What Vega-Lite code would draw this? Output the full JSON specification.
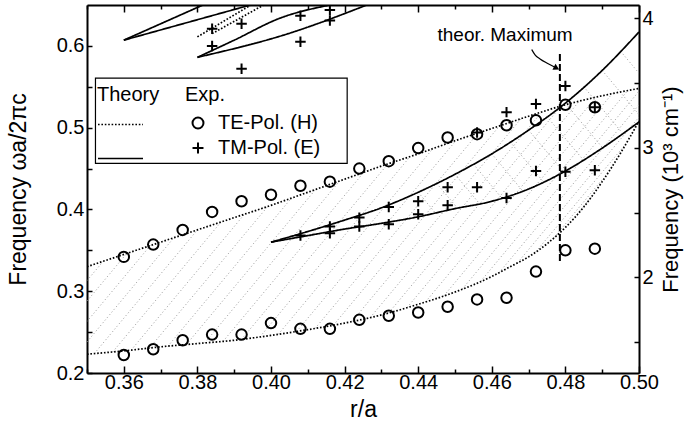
{
  "$schema": "https://vega.github.io/schema/vega-lite/v6.json",
  "width": 552,
  "height": 368,
  "autosize": {"type": "none"},
  "padding": {"left": 87, "top": 5, "right": 46, "bottom": 53},
  "background": "white",
  "config": {
    "font": "Liberation Sans",
    "view": {"stroke": null},
    "axis": {"grid": false, "domainColor": "black", "domainWidth": 2, "tickColor": "black", "tickWidth": 1.5, "labelColor": "black", "titleColor": "black", "labelFont": "Liberation Sans", "titleFont": "Liberation Sans", "labelFontSize": 20, "titleFontSize": 23, "titleFontWeight": "normal", "labelOverlap": false, "labelFlush": false}
  },
  "datasets": {
    "exp": [
      {"x":0.36,"y":0.342,"p":"TE-Pol. (H)"},{"x":0.368,"y":0.357,"p":"TE-Pol. (H)"},{"x":0.376,"y":0.375,"p":"TE-Pol. (H)"},{"x":0.384,"y":0.397,"p":"TE-Pol. (H)"},{"x":0.392,"y":0.410,"p":"TE-Pol. (H)"},{"x":0.400,"y":0.418,"p":"TE-Pol. (H)"},{"x":0.408,"y":0.429,"p":"TE-Pol. (H)"},{"x":0.416,"y":0.434,"p":"TE-Pol. (H)"},{"x":0.424,"y":0.450,"p":"TE-Pol. (H)"},{"x":0.432,"y":0.459,"p":"TE-Pol. (H)"},{"x":0.440,"y":0.475,"p":"TE-Pol. (H)"},{"x":0.448,"y":0.488,"p":"TE-Pol. (H)"},{"x":0.456,"y":0.492,"p":"TE-Pol. (H)"},{"x":0.464,"y":0.503,"p":"TE-Pol. (H)"},{"x":0.472,"y":0.509,"p":"TE-Pol. (H)"},{"x":0.480,"y":0.528,"p":"TE-Pol. (H)"},{"x":0.488,"y":0.525,"p":"TE-Pol. (H)"},
      {"x":0.36,"y":0.222,"p":"TE-Pol. (H)"},{"x":0.368,"y":0.229,"p":"TE-Pol. (H)"},{"x":0.376,"y":0.240,"p":"TE-Pol. (H)"},{"x":0.384,"y":0.247,"p":"TE-Pol. (H)"},{"x":0.392,"y":0.247,"p":"TE-Pol. (H)"},{"x":0.400,"y":0.261,"p":"TE-Pol. (H)"},{"x":0.408,"y":0.254,"p":"TE-Pol. (H)"},{"x":0.416,"y":0.254,"p":"TE-Pol. (H)"},{"x":0.424,"y":0.265,"p":"TE-Pol. (H)"},{"x":0.432,"y":0.270,"p":"TE-Pol. (H)"},{"x":0.440,"y":0.274,"p":"TE-Pol. (H)"},{"x":0.448,"y":0.281,"p":"TE-Pol. (H)"},{"x":0.456,"y":0.290,"p":"TE-Pol. (H)"},{"x":0.464,"y":0.292,"p":"TE-Pol. (H)"},{"x":0.472,"y":0.324,"p":"TE-Pol. (H)"},{"x":0.480,"y":0.350,"p":"TE-Pol. (H)"},{"x":0.488,"y":0.352,"p":"TE-Pol. (H)"},
      {"x":0.384,"y":0.621,"p":"TM-Pol. (E)"},{"x":0.384,"y":0.600,"p":"TM-Pol. (E)"},{"x":0.392,"y":0.627,"p":"TM-Pol. (E)"},{"x":0.392,"y":0.572,"p":"TM-Pol. (E)"},{"x":0.408,"y":0.637,"p":"TM-Pol. (E)"},{"x":0.408,"y":0.605,"p":"TM-Pol. (E)"},{"x":0.416,"y":0.644,"p":"TM-Pol. (E)"},{"x":0.416,"y":0.631,"p":"TM-Pol. (E)"},
      {"x":0.408,"y":0.368,"p":"TM-Pol. (E)"},{"x":0.416,"y":0.379,"p":"TM-Pol. (E)"},{"x":0.416,"y":0.371,"p":"TM-Pol. (E)"},{"x":0.424,"y":0.390,"p":"TM-Pol. (E)"},{"x":0.424,"y":0.379,"p":"TM-Pol. (E)"},{"x":0.432,"y":0.403,"p":"TM-Pol. (E)"},{"x":0.432,"y":0.382,"p":"TM-Pol. (E)"},{"x":0.440,"y":0.410,"p":"TM-Pol. (E)"},{"x":0.440,"y":0.394,"p":"TM-Pol. (E)"},{"x":0.448,"y":0.427,"p":"TM-Pol. (E)"},{"x":0.448,"y":0.405,"p":"TM-Pol. (E)"},{"x":0.456,"y":0.427,"p":"TM-Pol. (E)"},{"x":0.456,"y":0.494,"p":"TM-Pol. (E)"},{"x":0.464,"y":0.519,"p":"TM-Pol. (E)"},{"x":0.464,"y":0.414,"p":"TM-Pol. (E)"},{"x":0.472,"y":0.529,"p":"TM-Pol. (E)"},{"x":0.472,"y":0.447,"p":"TM-Pol. (E)"},{"x":0.480,"y":0.551,"p":"TM-Pol. (E)"},{"x":0.480,"y":0.446,"p":"TM-Pol. (E)"},{"x":0.488,"y":0.448,"p":"TM-Pol. (E)"},{"x":0.488,"y":0.525,"p":"TM-Pol. (E)"}
    ],
    "theory": [
      {"c":"TElow","p":"TE","x":0.35,"y":0.223},{"c":"TElow","p":"TE","x":0.36,"y":0.227},{"c":"TElow","p":"TE","x":0.37,"y":0.232},{"c":"TElow","p":"TE","x":0.38,"y":0.236},{"c":"TElow","p":"TE","x":0.39,"y":0.240},{"c":"TElow","p":"TE","x":0.40,"y":0.246},{"c":"TElow","p":"TE","x":0.41,"y":0.253},{"c":"TElow","p":"TE","x":0.42,"y":0.261},{"c":"TElow","p":"TE","x":0.43,"y":0.271},{"c":"TElow","p":"TE","x":0.44,"y":0.284},{"c":"TElow","p":"TE","x":0.45,"y":0.299},{"c":"TElow","p":"TE","x":0.46,"y":0.318},{"c":"TElow","p":"TE","x":0.465,"y":0.330},{"c":"TElow","p":"TE","x":0.47,"y":0.342},{"c":"TElow","p":"TE","x":0.475,"y":0.358},{"c":"TElow","p":"TE","x":0.48,"y":0.378},{"c":"TElow","p":"TE","x":0.485,"y":0.403},{"c":"TElow","p":"TE","x":0.49,"y":0.434},{"c":"TElow","p":"TE","x":0.495,"y":0.469},{"c":"TElow","p":"TE","x":0.50,"y":0.508},
      {"c":"TEup","p":"TE","x":0.35,"y":0.330},{"c":"TEup","p":"TE","x":0.36,"y":0.345},{"c":"TEup","p":"TE","x":0.37,"y":0.360},{"c":"TEup","p":"TE","x":0.38,"y":0.375},{"c":"TEup","p":"TE","x":0.39,"y":0.390},{"c":"TEup","p":"TE","x":0.40,"y":0.405},{"c":"TEup","p":"TE","x":0.41,"y":0.421},{"c":"TEup","p":"TE","x":0.42,"y":0.437},{"c":"TEup","p":"TE","x":0.43,"y":0.453},{"c":"TEup","p":"TE","x":0.44,"y":0.468},{"c":"TEup","p":"TE","x":0.45,"y":0.484},{"c":"TEup","p":"TE","x":0.46,"y":0.499},{"c":"TEup","p":"TE","x":0.47,"y":0.514},{"c":"TEup","p":"TE","x":0.48,"y":0.528},{"c":"TEup","p":"TE","x":0.49,"y":0.539},{"c":"TEup","p":"TE","x":0.50,"y":0.548},
      {"c":"TMlow","p":"TM","x":0.40,"y":0.360},{"c":"TMlow","p":"TM","x":0.41,"y":0.368},{"c":"TMlow","p":"TM","x":0.42,"y":0.376},{"c":"TMlow","p":"TM","x":0.43,"y":0.383},{"c":"TMlow","p":"TM","x":0.44,"y":0.391},{"c":"TMlow","p":"TM","x":0.45,"y":0.401},{"c":"TMlow","p":"TM","x":0.46,"y":0.410},{"c":"TMlow","p":"TM","x":0.47,"y":0.425},{"c":"TMlow","p":"TM","x":0.48,"y":0.447},{"c":"TMlow","p":"TM","x":0.49,"y":0.475},{"c":"TMlow","p":"TM","x":0.50,"y":0.507},
      {"c":"TMup","p":"TM","x":0.40,"y":0.360},{"c":"TMup","p":"TM","x":0.41,"y":0.373},{"c":"TMup","p":"TM","x":0.42,"y":0.387},{"c":"TMup","p":"TM","x":0.43,"y":0.402},{"c":"TMup","p":"TM","x":0.44,"y":0.421},{"c":"TMup","p":"TM","x":0.45,"y":0.443},{"c":"TMup","p":"TM","x":0.46,"y":0.468},{"c":"TMup","p":"TM","x":0.47,"y":0.497},{"c":"TMup","p":"TM","x":0.48,"y":0.530},{"c":"TMup","p":"TM","x":0.49,"y":0.570},{"c":"TMup","p":"TM","x":0.50,"y":0.617},
      {"c":"A1","p":"TM","x":0.360,"y":0.607},{"c":"A1","p":"TM","x":0.3815,"y":0.650},
      {"c":"A2","p":"TM","x":0.360,"y":0.607},{"c":"A2","p":"TM","x":0.3944,"y":0.650},
      {"c":"B1","p":"TE","x":0.380,"y":0.611},{"c":"B1","p":"TE","x":0.3945,"y":0.650},
      {"c":"B2","p":"TE","x":0.384,"y":0.615},{"c":"B2","p":"TE","x":0.398,"y":0.650},
      {"c":"C1","p":"TM","x":0.380,"y":0.586},{"c":"C1","p":"TM","x":0.390,"y":0.607},{"c":"C1","p":"TM","x":0.4025,"y":0.634},{"c":"C1","p":"TM","x":0.416,"y":0.650},
      {"c":"C2","p":"TM","x":0.380,"y":0.586},{"c":"C2","p":"TM","x":0.404,"y":0.614},{"c":"C2","p":"TM","x":0.4266,"y":0.651}
    ],
    "hatch": [
      {"h":"e1","x":0.35,"y":0.238},{"h":"e1","x":0.3736,"y":0.3654},
      {"h":"e2","x":0.35,"y":0.263},{"h":"e2","x":0.3672,"y":0.3558},
      {"h":"e3","x":0.35,"y":0.288},{"h":"e3","x":0.3608,"y":0.3462},
      {"h":"e4","x":0.35,"y":0.313},{"h":"e4","x":0.3544,"y":0.3365},
      {"h":"e5","x":0.352,"y":0.2238},{"h":"e5","x":0.3800,"y":0.375},
      {"h":"e6","x":0.357,"y":0.2258},{"h":"e6","x":0.3864,"y":0.3846},
      {"h":"e7","x":0.362,"y":0.228},{"h":"e7","x":0.3928,"y":0.3942},
      {"h":"e8","x":0.367,"y":0.2305},{"h":"e8","x":0.3991,"y":0.4036},
      {"h":"e9","x":0.372,"y":0.2328},{"h":"e9","x":0.4055,"y":0.4136},
      {"h":"e10","x":0.377,"y":0.2348},{"h":"e10","x":0.4120,"y":0.4238},
      {"h":"e11","x":0.382,"y":0.2368},{"h":"e11","x":0.4185,"y":0.4340},
      {"h":"e12","x":0.387,"y":0.2388},{"h":"e12","x":0.4250,"y":0.4442},
      {"h":"e13","x":0.392,"y":0.2412},{"h":"e13","x":0.4315,"y":0.4543},
      {"h":"e14","x":0.397,"y":0.2442},{"h":"e14","x":0.4377,"y":0.4641},
      {"h":"e15","x":0.402,"y":0.2474},{"h":"e15","x":0.4439,"y":0.4739},
      {"h":"e16","x":0.407,"y":0.2509},{"h":"e16","x":0.4501,"y":0.4834},
      {"h":"e17","x":0.412,"y":0.2546},{"h":"e17","x":0.4562,"y":0.4929},
      {"h":"e18","x":0.417,"y":0.2586},{"h":"e18","x":0.4621,"y":0.5022},
      {"h":"e19","x":0.422,"y":0.263},{"h":"e19","x":0.4679,"y":0.5108},
      {"h":"e20","x":0.427,"y":0.268},{"h":"e20","x":0.4735,"y":0.5187},
      {"h":"e21","x":0.432,"y":0.2736},{"h":"e21","x":0.4788,"y":0.5263},
      {"h":"e22","x":0.437,"y":0.2801},{"h":"e22","x":0.4837,"y":0.5320},
      {"h":"e23","x":0.442,"y":0.287},{"h":"e23","x":0.4883,"y":0.5372},
      {"h":"e24","x":0.447,"y":0.2945},{"h":"e24","x":0.4927,"y":0.5415},
      {"h":"e25","x":0.452,"y":0.3028},{"h":"e25","x":0.4969,"y":0.5452},
      {"h":"e26","x":0.457,"y":0.3123},{"h":"e26","x":0.50,"y":0.5445},
      {"h":"e27","x":0.462,"y":0.3228},{"h":"e27","x":0.50,"y":0.528},
      {"h":"e28","x":0.467,"y":0.3348},{"h":"e28","x":0.50,"y":0.513},
      {"h":"e29","x":0.472,"y":0.3484},{"h":"e29","x":0.4962,"y":0.479},
      {"h":"e30","x":0.477,"y":0.366},{"h":"e30","x":0.4901,"y":0.4371},
      {"h":"e31","x":0.482,"y":0.388},{"h":"e31","x":0.4873,"y":0.4166},
      {"h":"m1","x":0.440,"y":0.421},{"h":"m1","x":0.4446,"y":0.396},
      {"h":"m2","x":0.445,"y":0.432},{"h":"m2","x":0.4505,"y":0.4025},
      {"h":"m3","x":0.450,"y":0.443},{"h":"m3","x":0.4566,"y":0.4074},
      {"h":"m4","x":0.455,"y":0.4555},{"h":"m4","x":0.4627,"y":0.414},
      {"h":"m5","x":0.460,"y":0.468},{"h":"m5","x":0.4684,"y":0.4226},
      {"h":"m6","x":0.465,"y":0.4825},{"h":"m6","x":0.474,"y":0.434},
      {"h":"m7","x":0.470,"y":0.497},{"h":"m7","x":0.4794,"y":0.4465},
      {"h":"m8","x":0.475,"y":0.5135},{"h":"m8","x":0.4848,"y":0.4609},
      {"h":"m9","x":0.480,"y":0.530},{"h":"m9","x":0.4901,"y":0.4754},
      {"h":"m10","x":0.485,"y":0.550},{"h":"m10","x":0.4953,"y":0.4944},
      {"h":"m11","x":0.490,"y":0.570},{"h":"m11","x":0.50,"y":0.516},
      {"h":"m12","x":0.495,"y":0.5935},{"h":"m12","x":0.50,"y":0.5665}
    ]
  },
  "layer": [
    {
      "encoding": {
        "x": {"field": "x", "type": "quantitative", "scale": {"domain": [0.35, 0.50], "nice": false, "zero": false},
          "axis": {"orient": "bottom", "title": "r/a", "values": [0.35,0.36,0.37,0.38,0.39,0.40,0.41,0.42,0.43,0.44,0.45,0.46,0.47,0.48,0.49,0.50],
            "labelExpr": "(round(datum.value*100) % 2 == 0 && datum.value > 0.355) ? format(datum.value, '.2f') : ''",
            "tickSize": {"condition": {"test": "round(datum.value*100) % 2 == 0", "value": -7}, "value": -4},
            "labelPadding": 6, "titlePadding": 3}},
        "y": {"field": "y", "type": "quantitative", "scale": {"domain": [0.2, 0.65], "nice": false, "zero": false},
          "axis": {"orient": "left", "title": "Frequency ωa/2πc", "values": [0.2,0.25,0.3,0.35,0.4,0.45,0.5,0.55,0.6],
            "labelExpr": "round(datum.value*100) % 10 == 0 ? format(datum.value, '.1f') : ''",
            "tickSize": -5, "labelPadding": 8, "titlePadding": 26}}
      },
      "layer": [
        {"data": {"name": "hatch"}, "mark": {"type": "line", "color": "#999999", "strokeWidth": 1, "strokeDash": [1, 2.5], "clip": true},
         "encoding": {"detail": {"field": "h"}}},
        {"data": {"name": "theory"}, "mark": {"type": "line", "interpolate": "monotone", "color": "black", "strokeWidth": 1.7, "clip": true},
         "encoding": {"detail": {"field": "c"},
           "strokeDash": {"field": "p", "type": "nominal", "scale": {"domain": ["TE", "TM"], "range": [[1.6, 1.8], [1, 0]]},
             "legend": {"title": "Theory", "orient": "none", "legendX": 10, "legendY": 80, "direction": "vertical", "labelExpr": "''",
               "symbolType": "stroke", "symbolSize": 2025, "symbolStrokeWidth": 1.7, "symbolStrokeColor": "black",
               "titleFontSize": 20, "titleFontWeight": "normal", "titleColor": "black", "titleFont": "Liberation Sans", "titlePadding": -4,
               "labelFontSize": 20, "rowPadding": -20, "padding": 0}}}},
        {"data": {"values": [{"x": 0.4785, "y": 0.337, "y2": 0.592}]}, "mark": {"type": "rule", "color": "black", "strokeWidth": 2, "strokeDash": [7, 3]},
         "encoding": {"y2": {"field": "y2"}}},
        {"data": {"name": "exp"}, "mark": {"type": "point", "filled": false, "color": "black", "strokeWidth": 2, "opacity": 1, "size": 110, "clip": true},
         "encoding": {"shape": {"field": "p", "type": "nominal", "scale": {"domain": ["TE-Pol. (H)", "TM-Pol. (E)"], "range": ["circle", "M-1,0H1M0,-1V1"]},
           "legend": {"title": "Exp.", "orient": "none", "legendX": 98, "legendY": 80, "direction": "vertical",
             "symbolSize": 120, "symbolStrokeWidth": 2, "symbolStrokeColor": "black", "symbolOffset": 3,
             "titleFontSize": 20, "titleFontWeight": "normal", "titleColor": "black", "titleFont": "Liberation Sans", "titlePadding": 8,
             "labelFontSize": 20, "labelFont": "Liberation Sans", "labelColor": "black", "labelOffset": 10, "rowPadding": 5, "padding": 0}}}},
        {"data": {"values": [{"x": 0.3523, "x2": 0.4207, "y": 0.4564, "y2": 0.5607}]}, "mark": {"type": "rect", "fill": "white", "stroke": "black", "strokeWidth": 1.2},
         "encoding": {"x2": {"field": "x2"}, "y2": {"field": "y2"}}},
        {"data": {"values": [{"x": 0.4636, "y": 0.6065, "t": "theor. Maximum"}]}, "mark": {"type": "text", "fontSize": 19, "align": "center", "baseline": "alphabetic", "color": "black"},
         "encoding": {"text": {"field": "t"}}},
        {"data": {"values": [{"x": 0.47086, "y": 0.5955}, {"x": 0.47175, "y": 0.5890}, {"x": 0.47311, "y": 0.5841}, {"x": 0.47493, "y": 0.5791}, {"x": 0.47718, "y": 0.5739}]},
         "mark": {"type": "line", "color": "black", "strokeWidth": 1.2, "interpolate": "monotone"}, "encoding": {}},
        {"data": {"values": [{"x": 0.4776, "y": 0.5728}]}, "mark": {"type": "point", "shape": "triangle-right", "filled": true, "color": "black", "size": 45, "angle": 27, "opacity": 1},
         "encoding": {}}
      ]
    },
    {
      "data": {"values": [{"x": 0.42, "f": 2.5}]},
      "mark": {"type": "point", "opacity": 0},
      "encoding": {
        "x": {"field": "x", "type": "quantitative", "scale": {"domain": [0.35, 0.50], "nice": false, "zero": false},
          "axis": {"orient": "top", "title": null, "labels": false, "values": [0.35,0.36,0.37,0.38,0.39,0.40,0.41,0.42,0.43,0.44,0.45,0.46,0.47,0.48,0.49,0.50],
            "tickSize": {"condition": {"test": "round(datum.value*100) % 2 == 0", "value": -7}, "value": -4}}},
        "y": {"field": "f", "type": "quantitative", "scale": {"domain": [1.2618, 4.1009], "nice": false, "zero": false},
          "axis": {"orient": "right", "title": "Frequency (10³ cm⁻¹)", "values": [1.5, 2, 2.5, 3, 3.5, 4],
            "labelExpr": "round(datum.value*10) % 10 == 0 ? format(datum.value, 'd') : ''",
            "tickSize": -5, "labelPadding": 8, "titleAngle": 270, "titleBaseline": "top", "titleFontSize": 22, "titlePadding": 7}}
      }
    }
  ],
  "resolve": {"scale": {"y": "independent"}, "axis": {"x": "independent"}}
}
